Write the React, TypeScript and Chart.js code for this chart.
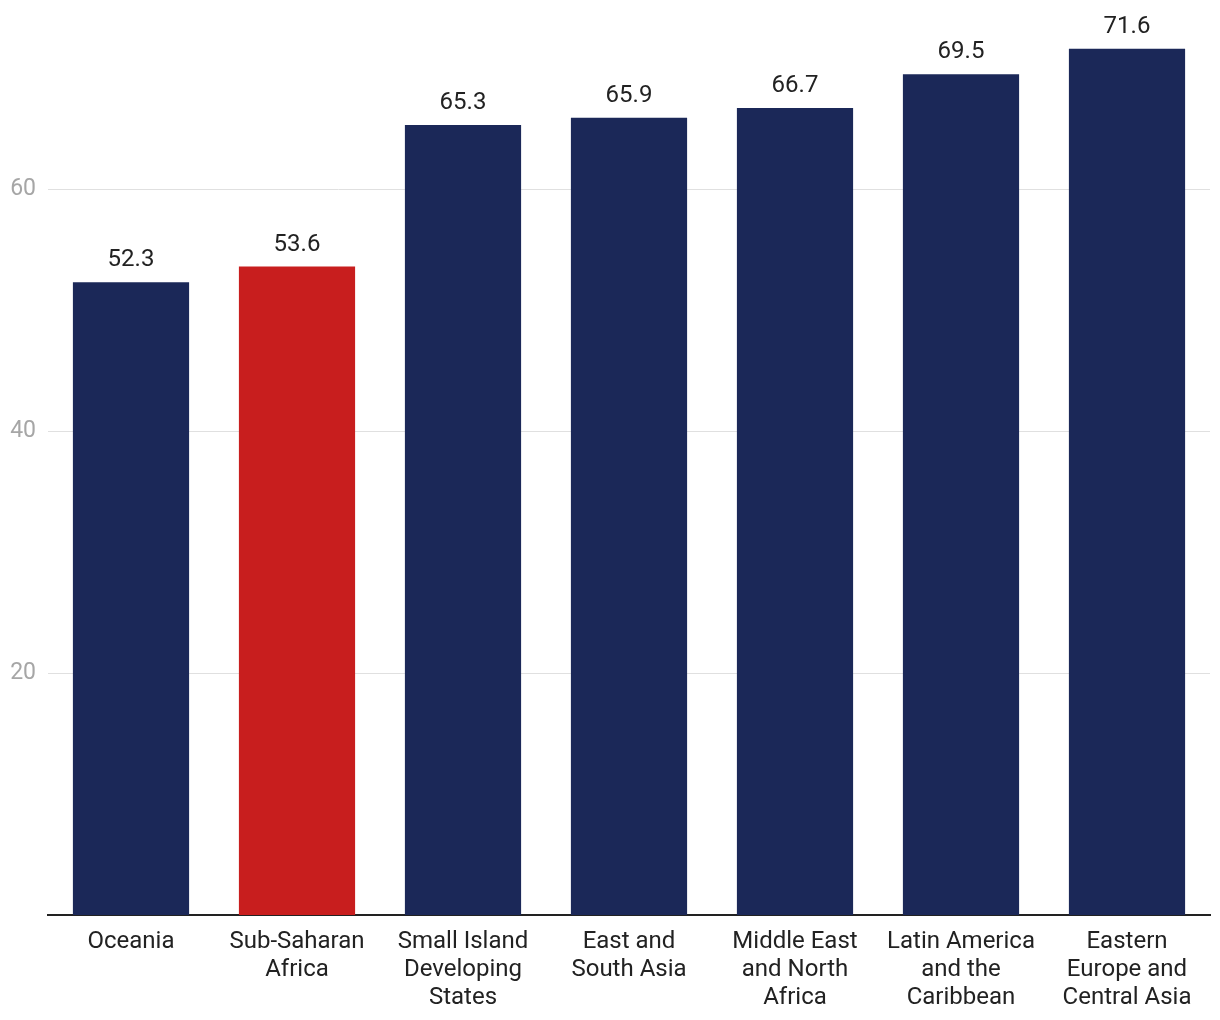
import React, { useEffect, useRef } from "react";
import { Chart, registerables } from "chart.js";

Chart.register(...registerables);

const categories: string[][] = [
  ["Oceania"],
  ["Sub-Saharan", "Africa"],
  ["Small Island", "Developing", "States"],
  ["East and", "South Asia"],
  ["Middle East", "and North", "Africa"],
  ["Latin America", "and the", "Caribbean"],
  ["Eastern", "Europe and", "Central Asia"],
];
const values: number[] = [52.3, 53.6, 65.3, 65.9, 66.7, 69.5, 71.6];
const highlightIndex = 1;
const yTicks: number[] = [20, 40, 60];

const NAVY = "#1b2858";
const RED = "#c81e1e";
const FONT = "Roboto, 'Noto Sans', sans-serif";

const valueLabels = {
  id: "valueLabels",
  afterDatasetsDraw(chart: any) {
    const ctx = chart.ctx;
    const meta = chart.getDatasetMeta(0);
    ctx.save();
    ctx.font = `24px ${FONT}`;
    ctx.fillStyle = "#222222";
    ctx.textAlign = "center";
    ctx.textBaseline = "alphabetic";
    meta.data.forEach((bar: any, i: number) => {
      ctx.fillText(values[i].toFixed(1), bar.x, bar.y - 16);
    });
    ctx.restore();
  },
};

export default function App() {
  const ref = useRef<HTMLCanvasElement | null>(null);
  useEffect(() => {
    document.body.style.margin = "0";
    const chart = new Chart(ref.current as HTMLCanvasElement, {
      type: "bar",
      data: {
        labels: categories,
        datasets: [
          {
            data: values,
            backgroundColor: values.map((_, i) => (i === highlightIndex ? RED : NAVY)),
            categoryPercentage: 0.7,
            barPercentage: 1,
          },
        ],
      },
      options: {
        animation: false,
        responsive: false,
        maintainAspectRatio: false,
        layout: { padding: { top: 8, right: 10, left: 0, bottom: 0 } },
        plugins: { legend: { display: false }, tooltip: { enabled: false } },
        scales: {
          x: {
            grid: { display: false, drawTicks: false },
            border: { display: true, color: "#222222", width: 2 },
            ticks: {
              color: "#222222",
              font: { family: FONT, size: 24, lineHeight: 1.167 },
              padding: 13,
              maxRotation: 0,
              autoSkip: false,
            },
            afterFit: (s: any) => {
              s.height = 105;
            },
          },
          y: {
            min: 0,
            max: 73.5,
            grid: { color: "#e0e0e0", lineWidth: 1, drawTicks: false },
            border: { display: false },
            afterBuildTicks: (s: any) => {
              s.ticks = yTicks.map((v) => ({ value: v }));
            },
            ticks: {
              color: "#a6a6a6",
              font: { family: FONT, size: 23 },
              padding: 12,
            },
            afterFit: (s: any) => {
              s.width = 48;
            },
          },
        },
      },
      plugins: [valueLabels],
    });
    return () => chart.destroy();
  }, []);
  return <canvas ref={ref} width={1220} height={1020} style={{ display: "block" }} />;
}
